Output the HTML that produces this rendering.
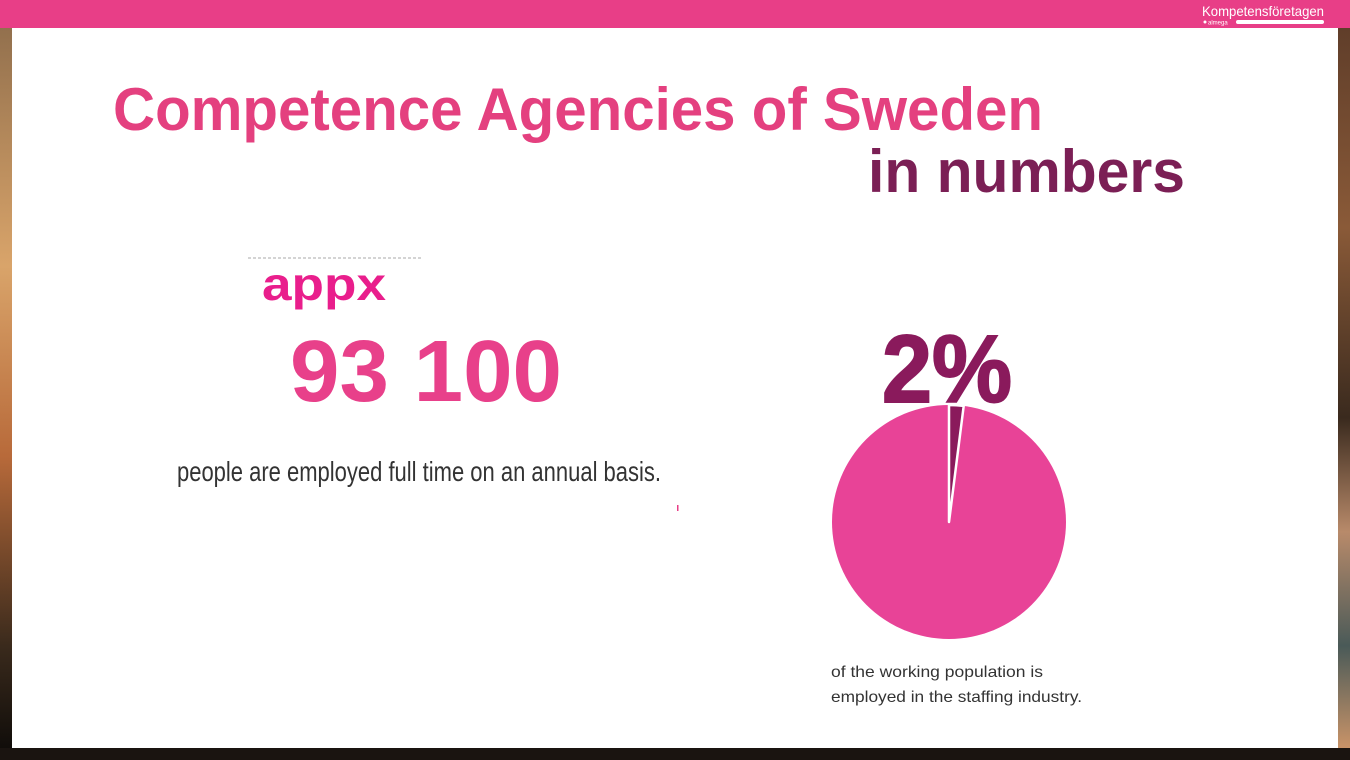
<!DOCTYPE html>
<html><head><meta charset="utf-8"><style>
html,body{margin:0;padding:0;width:1350px;height:760px;overflow:hidden}
body{background:linear-gradient(180deg,#8a6a4a 0%,#d9a46a 35%,#b86a3a 60%,#3a2a1c 85%,#0c0a08 100%)}
</style></head><body>
<svg width="1350" height="760" viewBox="0 0 1350 760" xmlns="http://www.w3.org/2000/svg" style="position:absolute;left:0;top:0">
<defs>
<linearGradient id="rg" x1="0" y1="0" x2="0" y2="1">
<stop offset="0" stop-color="#5a3a28"/><stop offset="0.3" stop-color="#8a5a38"/><stop offset="0.55" stop-color="#3a2a1e"/><stop offset="0.7" stop-color="#b88a6a"/><stop offset="0.85" stop-color="#4a5a58"/><stop offset="1" stop-color="#d89a6a"/>
</linearGradient>
</defs>
<rect x="1338" y="0" width="12" height="760" fill="url(#rg)"/>
<rect x="0" y="748" width="1350" height="12" fill="#1a1410"/>
<rect x="0" y="0" width="1350" height="28" fill="#e83e87"/>
<text x="1324" y="16" text-anchor="end" font-family="Liberation Sans, sans-serif" font-size="14" fill="#fff" textLength="122" lengthAdjust="spacingAndGlyphs">Kompetensföretagen</text>
<circle cx="1205" cy="22" r="1.5" fill="#fff"/>
<text x="1208" y="24.5" font-family="Liberation Sans, sans-serif" font-size="6" fill="#fff">almega</text>
<rect x="1236" y="20" width="88" height="4" rx="2" fill="#fff"/>
<rect x="12" y="28" width="1326" height="720" fill="#fff"/>
<text x="113" y="130" font-family="Liberation Sans, sans-serif" font-weight="bold" font-size="60" fill="#e4407f" textLength="930" lengthAdjust="spacingAndGlyphs">Competence Agencies of Sweden</text>
<text x="868" y="192" font-family="Liberation Sans, sans-serif" font-weight="bold" font-size="60" fill="#7b1f55" textLength="317" lengthAdjust="spacingAndGlyphs">in numbers</text>
<line x1="248" y1="258" x2="422" y2="258" stroke="#aaa" stroke-width="1" stroke-dasharray="3,2"/>
<text x="262" y="300" font-family="Liberation Sans, sans-serif" font-weight="bold" font-size="46" fill="#e91e8c" textLength="124" lengthAdjust="spacingAndGlyphs">appx</text>
<text x="290" y="401" font-family="Liberation Sans, sans-serif" font-weight="bold" font-size="87" fill="#e8408a" textLength="272" lengthAdjust="spacingAndGlyphs">93 100</text>
<text x="177" y="481" font-family="Liberation Sans, sans-serif" font-size="28" fill="#333" textLength="484" lengthAdjust="spacingAndGlyphs">people are employed full time on an annual basis.</text>
<rect x="677" y="505" width="1.5" height="6" fill="#e83e87"/>
<text x="882" y="402" font-family="Liberation Sans, sans-serif" font-weight="bold" font-size="96" fill="#8a1a5c" textLength="130" lengthAdjust="spacingAndGlyphs" stroke="#8a1a5c" stroke-width="2">2%</text>
<circle cx="949" cy="522" r="117" fill="#e84397"/>
<path d="M949,522 L949,405 A117,117 0 0 1 963.7,405.9 Z" fill="#8a1a5c" stroke="#fff" stroke-width="2.5" stroke-linejoin="round"/>
<text x="831" y="677" font-family="Liberation Sans, sans-serif" font-size="16" fill="#333" textLength="212" lengthAdjust="spacingAndGlyphs">of the working population is</text>
<text x="831" y="702" font-family="Liberation Sans, sans-serif" font-size="16" fill="#333" textLength="251" lengthAdjust="spacingAndGlyphs">employed in the staffing industry.</text>
</svg>
</body></html>
